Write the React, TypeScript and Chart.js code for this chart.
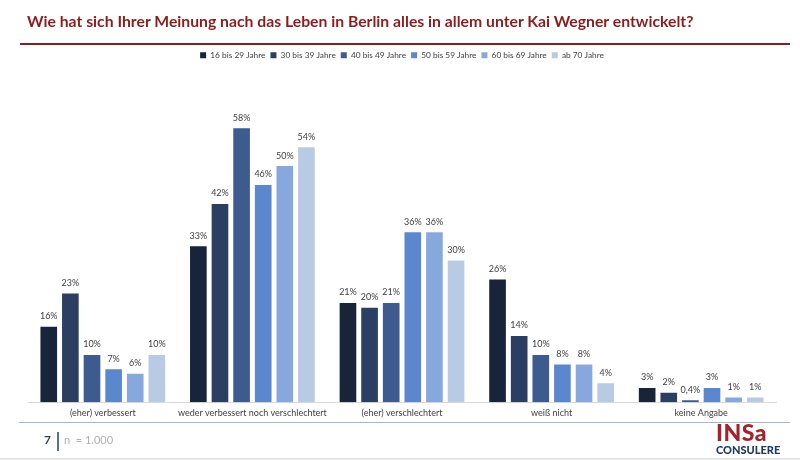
import React, { useEffect, useRef } from "react";
import { Chart, registerables } from "chart.js";

Chart.register(...registerables);

const categories = [
  "(eher) verbessert",
  "weder verbessert noch verschlechtert",
  "(eher) verschlechtert",
  "weiß nicht",
  "keine Angabe",
];
const seriesNames = [
  "16 bis 29 Jahre",
  "30 bis 39 Jahre",
  "40 bis 49 Jahre",
  "50 bis 59 Jahre",
  "60 bis 69 Jahre",
  "ab 70 Jahre",
];
const age16to29 = [16, 33, 21, 26, 3];
const age30to39 = [23, 42, 20, 14, 2];
const age40to49 = [10, 58, 21, 10, 0.4];
const age50to59 = [7, 46, 36, 8, 3];
const age60to69 = [6, 50, 36, 8, 1];
const age70plus = [10, 54, 30, 4, 1];
const seriesValues = [age16to29, age30to39, age40to49, age50to59, age60to69, age70plus];
const seriesColors = ["#18243a", "#2b3f62", "#3d5b8e", "#5b87cf", "#87a8dd", "#b9cae5"];

const FONT = "Lato, 'Open Sans', sans-serif";

const fmt = (v: number) => String(v).replace(".", ",") + "%";

const valueLabels = {
  id: "valueLabels",
  afterDatasetsDraw(chart: any) {
    const ctx = chart.ctx;
    ctx.save();
    ctx.font = `9px ${FONT}`;
    ctx.fillStyle = "#404040";
    ctx.textAlign = "center";
    ctx.textBaseline = "bottom";
    chart.data.datasets.forEach((ds: any, i: number) => {
      const meta = chart.getDatasetMeta(i);
      meta.data.forEach((bar: any, j: number) => {
        ctx.fillText(fmt(ds.data[j]), bar.x, bar.y - 6);
      });
    });
    ctx.restore();
  },
};

export default function App() {
  const ref = useRef<HTMLCanvasElement>(null);
  useEffect(() => {
    if (!ref.current) return;
    const chart = new Chart(ref.current, {
      type: "bar",
      data: {
        labels: categories,
        datasets: seriesNames.map((name, i) => ({
          label: name,
          data: seriesValues[i],
          backgroundColor: seriesColors[i],
          borderWidth: 0,
          categoryPercentage: 0.867,
          barPercentage: 0.77,
        })),
      },
      options: {
        animation: false,
        responsive: false,
        maintainAspectRatio: false,
        layout: { padding: { top: 46, left: 28, right: 24, bottom: 37 } },
        plugins: {
          legend: {
            position: "top",
            align: "center",
            labels: {
              boxWidth: 6,
              boxHeight: 6,
              padding: 5,
              color: "#404040",
              font: { size: 8.3, family: FONT },
            },
          },
          tooltip: { enabled: false },
          title: { display: false },
        },
        scales: {
          x: {
            grid: { display: false, drawTicks: false },
            border: { display: true, color: "#d9d9d9", width: 1 },
            ticks: {
              color: "#404040",
              font: { size: 9, family: FONT },
              padding: 5,
              maxRotation: 0,
              autoSkip: false,
            },
          },
          y: {
            display: false,
            min: 0,
            max: 70.5,
          },
        },
      },
      plugins: [valueLabels],
    });
    return () => chart.destroy();
  }, []);

  return (
    <div style={{ position: "fixed", left: 0, top: 0, width: 800, height: 460, background: "#fff", overflow: "hidden", fontFamily: FONT }}>
      <canvas ref={ref} width={800} height={460} style={{ position: "absolute", left: 0, top: 0 }} />
      <div style={{ position: "absolute", left: 27, top: 11, fontSize: 15.75, fontWeight: 700, color: "#8b1d1d", whiteSpace: "nowrap" }}>
        Wie hat sich Ihrer Meinung nach das Leben in Berlin alles in allem unter Kai Wegner entwickelt?
      </div>
      <div style={{ position: "absolute", left: 20, top: 43, width: 770, height: 2, background: "#8b1d1d" }} />
      <div style={{ position: "absolute", left: 19, top: 422, width: 771, height: 1, background: "#aab6cb" }} />
      <div style={{ position: "absolute", left: 44, top: 432, fontSize: 12, fontWeight: 700, color: "#2b3f62" }}>7</div>
      <div style={{ position: "absolute", left: 57, top: 432, width: 2, height: 19, background: "#5a6f95" }} />
      <div style={{ position: "absolute", left: 64, top: 433, fontSize: 11, color: "#b0b0b0" }}>n&nbsp;&nbsp;= 1.000</div>
      <div style={{ position: "absolute", left: 716, top: 420, fontSize: 23, fontWeight: 900, color: "#a3232b", letterSpacing: 0.5, lineHeight: "24px" }}>INSa</div>
      <div style={{ position: "absolute", left: 716, top: 443, fontSize: 11, fontWeight: 900, color: "#1f3864", lineHeight: "13px" }}>CONSULERE</div>
      <div style={{ position: "absolute", left: 0, top: 458, width: 800, height: 2, background: "#e6e6e6" }} />
    </div>
  );
}
